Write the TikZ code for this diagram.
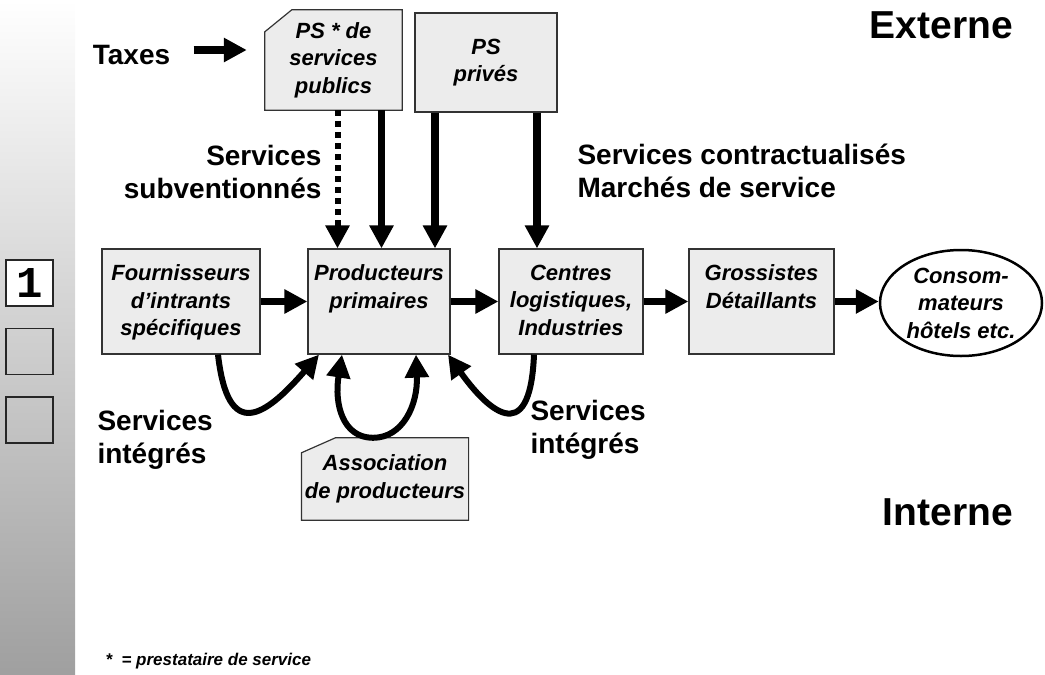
\documentclass[tikz,border=0pt]{standalone}
\usepackage{fontspec}
\setmainfont{Liberation Sans}
\newfontfamily\digitfont{Liberation Mono}
\usepackage{tikz}
\usetikzlibrary{calc,positioning,arrows.meta,shapes.geometric,backgrounds}
\tikzset{box/.style={draw=black!80, line width=1.2pt, fill=gray!15},
         stage/.style={box, minimum height=105pt},
         boxtxt/.style={align=center, font=\fontsize{22}{27.5}\selectfont\bfseries\itshape},
         lbl/.style={font=\fontsize{28}{33.5}\selectfont\bfseries},
         side/.style={font=\fontsize{39}{44}\selectfont\bfseries},
         pagebox/.style={draw=black!85, line width=1.2pt, minimum width=47pt, minimum height=46pt}}

\begin{document}
\begin{tikzpicture}[x=1pt, y=-1pt, >={Triangle[width=23pt,length=23pt]},
	fat/.style={line width=7.5pt, ->}, swoop/.style={line width=6pt, ->},
	dotline/.style={line width=6pt, dash pattern=on 6pt off 5pt}]
	\useasboundingbox (0,0) rectangle (1045,675);
	\shade[top color=white, bottom color=gray!75] (0,0) rectangle (75,675);

	\node[pagebox, fill=white, font=\fontsize{44}{44}\selectfont\digitfont\bfseries] (page1) at (29.5,283) {1};
	\node[pagebox] (page2) at (29.5,351.5) {};
	\node[pagebox] (page3) at (29.5,420) {};

	\node[stage, minimum width=158pt] (four) at (181,301.5) {};
	\node[stage, minimum width=142pt] (prod) at (379,301.5) {};
	\node[stage, minimum width=144pt] (centres) at (571,301.5) {};
	\node[stage, minimum width=145pt] (gross) at (761.5,301.5) {};
	\node[boxtxt, draw, ellipse, line width=2.5pt, inner sep=0pt,
		minimum width=162pt, minimum height=106pt] (cons) at (961,303) {Consom-\\mateurs\\hôtels etc.};

	\node[boxtxt, below=13pt of four.north] (four-t) {Fournisseurs\\d’intrants\\spécifiques};
	\node[boxtxt, below=13pt of prod.north] (prod-t) {Producteurs\\primaires};
	\node[boxtxt, below=13pt of centres.north] (centres-t) {Centres\\logistiques,\\Industries};
	\node[boxtxt, below=13pt of gross.north] (gross-t) {Grossistes\\Détaillants};

	\node[boxtxt, minimum width=137pt, minimum height=100pt] (pspub) at (333.5,60) {PS * de\\services\\publics};
	\node[box, boxtxt, minimum width=142pt, minimum height=99pt] (pspriv) at (486,62.5) {PS\\privés};
	\node[boxtxt, minimum width=164pt, minimum height=82pt] (assoc) at (385,479) {Association\\de producteurs};
	\begin{scope}[on background layer]
		\draw[box] ([yshift=-22pt]pspub.north west) -- ([xshift=27pt]pspub.north west) -- (pspub.north east)
			-- (pspub.south east) -- (pspub.south west) -- cycle;
		\draw[box] ([yshift=-15pt]assoc.north west) -- ([xshift=34pt]assoc.north west) -- (assoc.north east)
			-- (assoc.south east) -- (assoc.south west) -- cycle;
	\end{scope}

	\node[lbl] (taxes) at (131.5,55) {Taxes};
	\node[lbl, align=right, anchor=east] (subv) at (325,172) {Services\\subventionnés};
	\node[lbl, align=left, anchor=west] (contract) at (574,171) {Services contractualisés\\Marchés de service};
	\node[lbl, align=left, anchor=west] (integ1) at (94,440) {Services\\intégrés};
	\node[lbl, align=left, anchor=west] (integ2) at (527,430) {Services\\intégrés};
	\node[side] (ext) at (941.5,25) {Externe};
	\node[side] (int) at (948,512) {Interne};
	\node[font=\fontsize{17}{20}\selectfont\bfseries\itshape, anchor=base west] (note) at (102,665) {*\ \ = prestataire de service};

	\draw[fat] ([shift={(20pt,5pt)}]taxes.east) -- ([shift={(-18pt,5pt)}]taxes.east -| pspub.west);
	\draw[fat, dotline] ([xshift=4pt]pspub.south) -- ([xshift=4pt]pspub.south |- prod.north);
	\draw[fat] ([xshift=48pt]pspub.south) -- ([xshift=48pt]pspub.south |- prod.north);
	\draw[fat] ([xshift=-51pt]pspriv.south) -- ([xshift=-51pt]pspriv.south |- prod.north);
	\draw[fat] ([xshift=51pt]pspriv.south) -- ([xshift=51pt]pspriv.south |- centres.north);

	\draw[fat] (four) -- (prod);
	\draw[fat] (prod) -- (centres);
	\draw[fat] (centres) -- (gross);
	\draw[fat] (gross) -- (gross -| cons.west);

	\draw[swoop] ([xshift=37pt]four.south) .. controls +(10,88) and +(-54,62) .. ([xshift=-60pt]prod.south);
	\draw[swoop, <->] ([xshift=-37pt]prod.south) .. controls +(-8,50) and +(-30,0) .. ([xshift=-12pt]assoc.north)
		.. controls +(30,0) and +(2,50) .. ([xshift=37pt]prod.south);
	\draw[swoop] ([xshift=-37pt]centres.south) .. controls +(-4,98) and +(37,52) .. ([xshift=69pt]prod.south);
\end{tikzpicture}
\end{document}
